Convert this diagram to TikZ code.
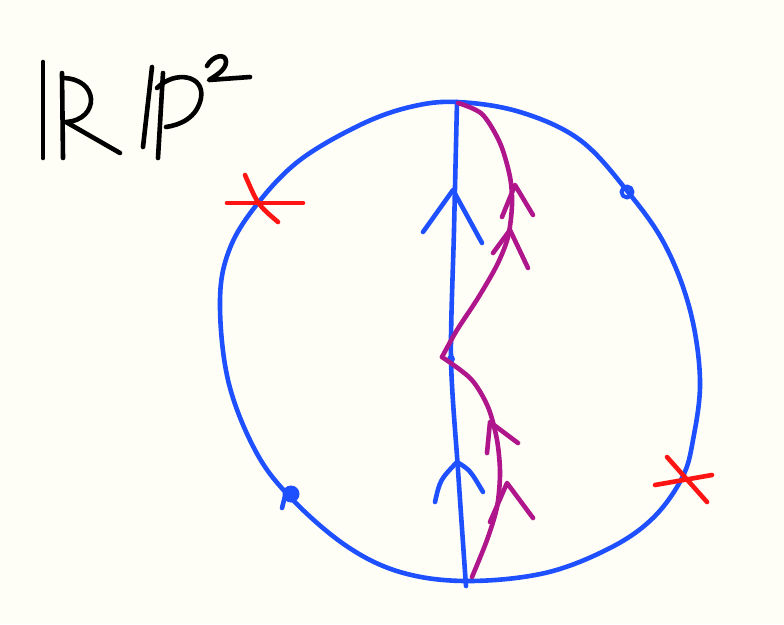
\documentclass[tikz,border=0pt]{standalone}
\begin{document}
\begin{tikzpicture}[x=1pt,y=-1pt,
  pen/.style={line width=4.6pt,line cap=round,line join=round},
  bluepen/.style={pen,draw=inkblue},
  magpen/.style={pen,draw=inkmag},
  redpen/.style={pen,draw=inkred},
  blackpen/.style={pen,draw=black}]
\definecolor{bgcol}{RGB}{254,254,246}
\definecolor{inkblue}{RGB}{30,80,255}
\definecolor{inkmag}{RGB}{176,22,140}
\definecolor{inkred}{RGB}{255,20,20}
\fill[bgcol] (0,0) rectangle (784,624);
\useasboundingbox (0,0) rectangle (784,624);
% circle
\draw[bluepen] plot[smooth cycle,tension=0.6] coordinates{
 (457,102) (520,112) (580,140) (628,192) (665,245) (690,310) (700,380)
 (693,440) (682,478) (653,518) (610,548) (545,573) (466,581) (400,572)
 (345,545) (290,497) (255,450) (228,380) (220,300) (230,248) (258,203)
 (300,160) (360,125) (410,107)};
% vertical line
\coordinate (top) at (457,102);
\coordinate (mid) at (451,359);
\coordinate (bot) at (466,586);
\draw[bluepen] plot[smooth] coordinates{(top) (454,230) (mid) (458,470) (bot)};
\fill[inkblue] (mid) circle (4pt);
% blue arrowheads
\draw[bluepen] (423,232) -- (453,190) -- (482,243);
\draw[bluepen] (435,502) .. controls (440,480) .. (457,462) .. controls (470,470) .. (483,492);
% magenta path
\draw[magpen] plot[smooth] coordinates{(458,103) (482,114) (500,143) (510,177) (512,205) (508,237) (497,265) (478,298) (457,330) (442,357)};
\draw[magpen] plot[smooth] coordinates{(442,357) (471,379) (488,407) (497,440) (500,473) (497,507) (487,540) (472,577)};
% magenta arrowheads
\draw[magpen] (502,217) -- (515,185) -- (533,215);
\draw[magpen] (493,253) -- (510,230) -- (528,268);
\draw[magpen] (487,453) -- (490,422) -- (518,443);
\draw[magpen] (490,522) -- (507,483) -- (533,518);
% red crosses
\draw[redpen] (227,203) -- (303,203);
\draw[redpen] (245,175) .. controls (258,205) .. (278,222);
\draw[redpen] (655,485) -- (712,475);
\draw[redpen] (667,457) -- (707,502);
% marks
\draw[bluepen,line width=4pt] (627,192) circle (5.5pt);
\fill[inkblue] (291,494) circle (8.5pt);
\draw[bluepen] (285,496) -- (282,508);
% label RP^2
\draw[blackpen] (43,62) -- (43,158);
\draw[blackpen] (62,73) -- (63,158);
\draw[blackpen] (62,78) .. controls (100,78) and (100,120) .. (66,122) -- (120,153);
\draw[blackpen] (152,67) -- (143,147);
\draw[blackpen] (163,73) -- (158,158);
\draw[blackpen] (157,88) .. controls (175,70) and (205,75) .. (201,98) .. controls (197,118) and (180,125) .. (166,127);
\draw[blackpen] (207,66) .. controls (212,56) and (226,52) .. (226,62) .. controls (226,70) and (215,76) .. (209,80) -- (250,77);
\end{tikzpicture}
\end{document}
